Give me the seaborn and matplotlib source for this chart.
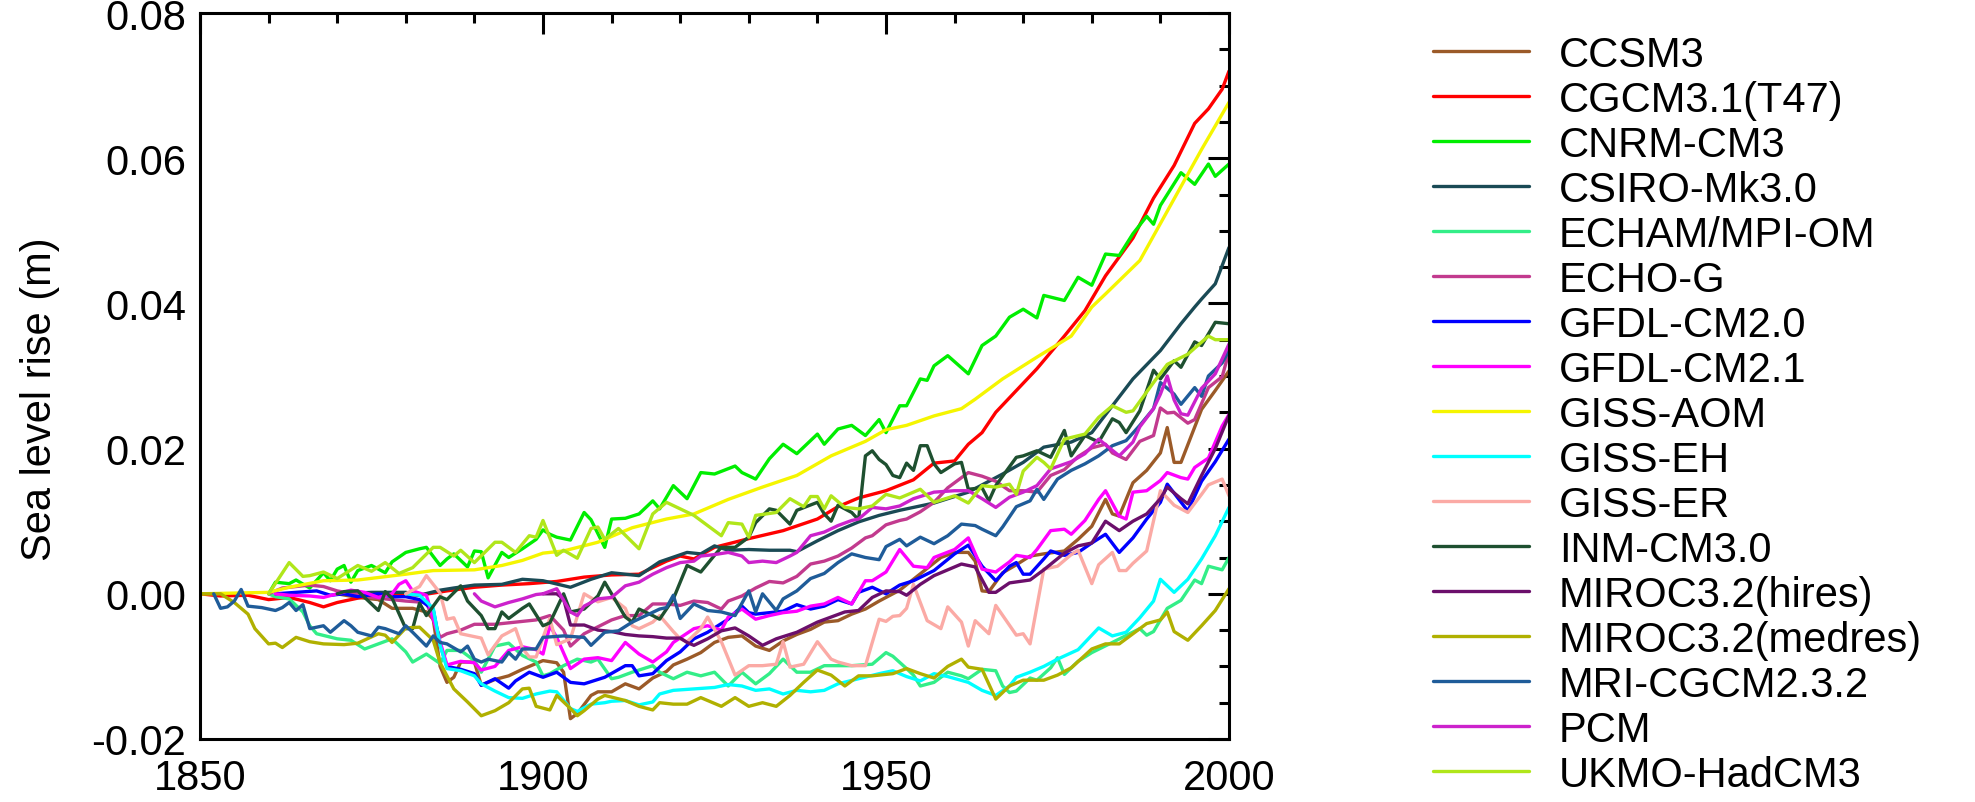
import matplotlib
matplotlib.use("Agg")
import matplotlib.pyplot as plt
from matplotlib.ticker import MultipleLocator, FormatStrFormatter
import seaborn as sns
import pandas as pd

# Model names in legend order, with their line colours
MODELS = [
    "CCSM3", "CGCM3.1(T47)", "CNRM-CM3", "CSIRO-Mk3.0", "ECHAM/MPI-OM",
    "ECHO-G", "GFDL-CM2.0", "GFDL-CM2.1", "GISS-AOM", "GISS-EH", "GISS-ER",
    "INM-CM3.0", "MIROC3.2(hires)", "MIROC3.2(medres)", "MRI-CGCM2.3.2",
    "PCM", "UKMO-HadCM3",
]
COLORS = [
    "#9b5a28", "#ff0000", "#00ee00", "#1a4a55", "#33ee88",
    "#c23a8e", "#0000ff", "#ff00ff", "#f5f500", "#00ffff", "#fbaaa5",
    "#1e5030", "#6b0f6b", "#b0b000", "#1f5c99",
    "#cc22cc", "#b0e61a",
]

# Sea level rise (m) per model: years and values
ccsm3_yr = [1870, 1873, 1876, 1878, 1881, 1883, 1884, 1885, 1886, 1887, 1888, 1890, 1891, 1893, 1895, 1897, 1900, 1902, 1903, 1904, 1905, 1907, 1908, 1910, 1912, 1914, 1916, 1918, 1919, 1921, 1923, 1925, 1927, 1929, 1931, 1933, 1935, 1937, 1939, 1941, 1943, 1945, 1947, 1949, 1950, 1952, 1954, 1956, 1958, 1960, 1962, 1963, 1964, 1965, 1967, 1969, 1971, 1973, 1976, 1978, 1980, 1982, 1983, 1984, 1986, 1988, 1990, 1991, 1992, 1993, 1996, 1998, 2000]
ccsm3 = [0.0, -0.0005, -0.0008, -0.0020, -0.0020, -0.0025, -0.0035, -0.0100, -0.0122, -0.0115, -0.0094, -0.0094, -0.0126, -0.0118, -0.0113, -0.0104, -0.0092, -0.0095, -0.0108, -0.0172, -0.0165, -0.0140, -0.0135, -0.0135, -0.0124, -0.0131, -0.0116, -0.0107, -0.0098, -0.0090, -0.0081, -0.0067, -0.0060, -0.0058, -0.0072, -0.0078, -0.0065, -0.0056, -0.0049, -0.0039, -0.0037, -0.0028, -0.0021, -0.0010, -0.0005, 0.0005, 0.0020, 0.0035, 0.0050, 0.0057, 0.0057, 0.0045, 0.0004, 0.0003, 0.0029, 0.0040, 0.0052, 0.0055, 0.0059, 0.0075, 0.0093, 0.0130, 0.0110, 0.0107, 0.0153, 0.0170, 0.0194, 0.0229, 0.0181, 0.0181, 0.0254, 0.0280, 0.0307]

cgcm31_yr = [1850, 1853, 1857, 1860, 1863, 1866, 1868, 1870, 1874, 1878, 1882, 1886, 1890, 1894, 1898, 1902, 1906, 1910, 1914, 1918, 1920, 1922, 1925, 1930, 1935, 1940, 1943, 1946, 1950, 1954, 1957, 1960, 1962, 1964, 1966, 1969, 1972, 1976, 1979, 1982, 1986, 1989, 1992, 1995, 1997, 1999, 2000]
cgcm31 = [0.0, -0.0003, -0.0002, -0.0008, -0.0005, -0.0012, -0.0018, -0.0012, -0.0004, 0.0, -0.0002, 0.0004, 0.0009, 0.0012, 0.0014, 0.0017, 0.0023, 0.0026, 0.0027, 0.0045, 0.0052, 0.0048, 0.0064, 0.0076, 0.0087, 0.0103, 0.0120, 0.0132, 0.0142, 0.0157, 0.0180, 0.0183, 0.0206, 0.0222, 0.0250, 0.0280, 0.0310, 0.0355, 0.0390, 0.0438, 0.0490, 0.0545, 0.0590, 0.0648, 0.0668, 0.0695, 0.0720]

cnrm_yr = [1860, 1861, 1863, 1864, 1866, 1868, 1869, 1870, 1871, 1872, 1873, 1875, 1877, 1878, 1880, 1882, 1883, 1885, 1886, 1887, 1889, 1890, 1891, 1892, 1894, 1895, 1897, 1899, 1900, 1901, 1902, 1904, 1906, 1907, 1909, 1910, 1912, 1914, 1916, 1917, 1919, 1921, 1923, 1925, 1928, 1929, 1931, 1933, 1935, 1937, 1940, 1941, 1943, 1945, 1947, 1949, 1950, 1952, 1953, 1955, 1956, 1957, 1959, 1962, 1964, 1966, 1968, 1970, 1972, 1973, 1976, 1978, 1980, 1982, 1984, 1986, 1988, 1989, 1990, 1993, 1995, 1997, 1998, 2000]
cnrm = [0.0, 0.0016, 0.0014, 0.0019, 0.0008, 0.0029, 0.0018, 0.0034, 0.0039, 0.0016, 0.0032, 0.0039, 0.0029, 0.0044, 0.0057, 0.0062, 0.0064, 0.0039, 0.0048, 0.0055, 0.0037, 0.0059, 0.0058, 0.0022, 0.0057, 0.0050, 0.0062, 0.0075, 0.0088, 0.0082, 0.0078, 0.0074, 0.0112, 0.0102, 0.0064, 0.0103, 0.0104, 0.0110, 0.0128, 0.0117, 0.0149, 0.0131, 0.0167, 0.0165, 0.0176, 0.0167, 0.0158, 0.0186, 0.0206, 0.0193, 0.0220, 0.0206, 0.0227, 0.0232, 0.0218, 0.0240, 0.0222, 0.0259, 0.0259, 0.0296, 0.0294, 0.0314, 0.0328, 0.0303, 0.0342, 0.0355, 0.0381, 0.0392, 0.0380, 0.0411, 0.0404, 0.0436, 0.0425, 0.0468, 0.0466, 0.0496, 0.0520, 0.0509, 0.0535, 0.0580, 0.0564, 0.0592, 0.0575, 0.0592]

csiro_yr = [1870, 1875, 1880, 1882, 1885, 1887, 1890, 1894, 1897, 1900, 1904, 1907, 1910, 1914, 1917, 1921, 1923, 1925, 1927, 1930, 1933, 1936, 1937, 1940, 1943, 1946, 1949, 1952, 1957, 1962, 1967, 1970, 1973, 1977, 1980, 1983, 1986, 1990, 1993, 1995, 1996, 1998, 2000]
csiro = [0.0, 0.0002, 0.0002, -0.0002, 0.0005, 0.0008, 0.0012, 0.0013, 0.0020, 0.0018, 0.0009, 0.0020, 0.0029, 0.0025, 0.0044, 0.0057, 0.0055, 0.0066, 0.0060, 0.0061, 0.0060, 0.0060, 0.0058, 0.0073, 0.0087, 0.0099, 0.0108, 0.0115, 0.0125, 0.0140, 0.0165, 0.0181, 0.0202, 0.0209, 0.0222, 0.0259, 0.0296, 0.0335, 0.0372, 0.0395, 0.0406, 0.0427, 0.0477]

echam_yr = [1860, 1861, 1863, 1865, 1866, 1867, 1870, 1872, 1874, 1876, 1878, 1880, 1881, 1883, 1885, 1886, 1888, 1890, 1891, 1893, 1895, 1897, 1899, 1900, 1901, 1903, 1905, 1907, 1908, 1910, 1911, 1913, 1916, 1917, 1919, 1921, 1923, 1925, 1927, 1929, 1931, 1933, 1935, 1937, 1939, 1941, 1945, 1948, 1950, 1951, 1953, 1954, 1955, 1957, 1959, 1961, 1962, 1964, 1966, 1967, 1968, 1969, 1971, 1972, 1974, 1975, 1976, 1978, 1980, 1983, 1987, 1988, 1989, 1991, 1993, 1995, 1996, 1997, 1999, 2000]
echam = [0.0, -0.0004, -0.0007, -0.0025, -0.0044, -0.0055, -0.0062, -0.0064, -0.0076, -0.0069, -0.0062, -0.0080, -0.0094, -0.0083, -0.0096, -0.0078, -0.0078, -0.0092, -0.0108, -0.0072, -0.0068, -0.0085, -0.0094, -0.0113, -0.0110, -0.0099, -0.0090, -0.0094, -0.0090, -0.0117, -0.0115, -0.0108, -0.0099, -0.0108, -0.0117, -0.0108, -0.0113, -0.0108, -0.0127, -0.0108, -0.0124, -0.0110, -0.0090, -0.0108, -0.0108, -0.0099, -0.0099, -0.0097, -0.0081, -0.0086, -0.0103, -0.0112, -0.0127, -0.0122, -0.0108, -0.0113, -0.0117, -0.0104, -0.0106, -0.0127, -0.0136, -0.0134, -0.0116, -0.0119, -0.0102, -0.0088, -0.0111, -0.0093, -0.0081, -0.0067, -0.0048, -0.0057, -0.0052, -0.0020, -0.0009, 0.0019, 0.0014, 0.0038, 0.0033, 0.0050]

echog_yr = [1860, 1862, 1864, 1866, 1868, 1870, 1875, 1880, 1883, 1885, 1886, 1888, 1890, 1893, 1895, 1897, 1899, 1901, 1903, 1904, 1906, 1910, 1912, 1914, 1916, 1918, 1920, 1922, 1924, 1926, 1927, 1929, 1931, 1933, 1935, 1937, 1939, 1941, 1943, 1945, 1947, 1948, 1950, 1952, 1953, 1955, 1957, 1959, 1962, 1964, 1966, 1968, 1970, 1972, 1974, 1976, 1978, 1980, 1982, 1983, 1985, 1987, 1989, 1990, 1991, 1992, 1994, 1995, 1997, 1999, 2000]
echog = [0.0, 0.0008, 0.0010, 0.0012, 0.0010, 0.0004, -0.0005, -0.0010, -0.0012, -0.0060, -0.0055, -0.0050, -0.0042, -0.0042, -0.0040, -0.0038, -0.0036, -0.0030, -0.0050, -0.0072, -0.0055, -0.0036, -0.0030, -0.0030, -0.0014, -0.0014, -0.0016, -0.0010, -0.0012, -0.0021, -0.0010, -0.0003, 0.0008, 0.0017, 0.0015, 0.0024, 0.0041, 0.0045, 0.0052, 0.0063, 0.0077, 0.0080, 0.0095, 0.0101, 0.0103, 0.0113, 0.0126, 0.0146, 0.0167, 0.0162, 0.0155, 0.0142, 0.0142, 0.0140, 0.0163, 0.0171, 0.0189, 0.0201, 0.0206, 0.0194, 0.0185, 0.0210, 0.0218, 0.0256, 0.0249, 0.0250, 0.0235, 0.0240, 0.0284, 0.0299, 0.0333]

gfdl20_yr = [1861, 1864, 1867, 1869, 1871, 1873, 1876, 1878, 1880, 1882, 1884, 1885, 1886, 1888, 1890, 1891, 1893, 1895, 1896, 1898, 1900, 1902, 1904, 1906, 1909, 1912, 1913, 1914, 1916, 1918, 1920, 1922, 1924, 1927, 1929, 1930, 1931, 1933, 1935, 1937, 1939, 1941, 1943, 1945, 1946, 1948, 1950, 1952, 1954, 1957, 1960, 1962, 1964, 1966, 1968, 1969, 1970, 1971, 1973, 1974, 1976, 1978, 1980, 1982, 1984, 1986, 1988, 1990, 1991, 1994, 1996, 1998, 2000]
gfdl20 = [0.0, 0.0002, 0.0004, -0.0002, 0.0, -0.0004, 0.0, -0.0004, -0.0004, -0.0008, -0.0022, -0.0070, -0.0100, -0.0104, -0.0110, -0.0126, -0.0117, -0.0130, -0.0120, -0.0108, -0.0115, -0.0108, -0.0122, -0.0124, -0.0115, -0.0099, -0.0099, -0.0113, -0.0110, -0.0092, -0.0080, -0.0062, -0.0053, -0.0035, -0.0017, -0.0026, -0.0028, -0.0026, -0.0024, -0.0015, -0.0021, -0.0017, -0.0008, -0.0014, 0.0002, 0.0009, 0.0, 0.0012, 0.0018, 0.0032, 0.0055, 0.0067, 0.0038, 0.0018, 0.0038, 0.0043, 0.0027, 0.0027, 0.0048, 0.0059, 0.0053, 0.0057, 0.0070, 0.0082, 0.0057, 0.0077, 0.0103, 0.0126, 0.0151, 0.0114, 0.0155, 0.0182, 0.0213]

gfdl21_yr = [1861, 1863, 1866, 1868, 1872, 1874, 1876, 1878, 1879, 1880, 1881, 1883, 1884, 1886, 1888, 1890, 1891, 1893, 1895, 1897, 1899, 1900, 1901, 1902, 1904, 1906, 1908, 1910, 1912, 1914, 1916, 1918, 1919, 1922, 1924, 1926, 1927, 1929, 1931, 1933, 1935, 1937, 1939, 1941, 1943, 1945, 1947, 1948, 1950, 1952, 1954, 1956, 1957, 1960, 1962, 1964, 1966, 1968, 1969, 1971, 1972, 1974, 1976, 1977, 1979, 1981, 1982, 1984, 1985, 1986, 1988, 1990, 1991, 1993, 1994, 1995, 1997, 1999, 2000]
gfdl21 = [0.0, -0.0002, -0.0003, -0.0005, 0.0005, 0.0002, -0.0005, 0.0, 0.0013, 0.0018, 0.0004, -0.0002, -0.0034, -0.0098, -0.0093, -0.0095, -0.0105, -0.0100, -0.0078, -0.0073, -0.0077, -0.0083, -0.0044, -0.0060, -0.0103, -0.0090, -0.0088, -0.0092, -0.0067, -0.0083, -0.0094, -0.0080, -0.0067, -0.0048, -0.0044, -0.0050, -0.0032, -0.0021, -0.0035, -0.0030, -0.0026, -0.0024, -0.0017, -0.0014, -0.0005, -0.0014, 0.0018, 0.0018, 0.0030, 0.0061, 0.0038, 0.0036, 0.0050, 0.0061, 0.0077, 0.0034, 0.0030, 0.0044, 0.0053, 0.0050, 0.0061, 0.0087, 0.0089, 0.0082, 0.0101, 0.0130, 0.0142, 0.0107, 0.0103, 0.0140, 0.0142, 0.0156, 0.0167, 0.0160, 0.0158, 0.0174, 0.0187, 0.0231, 0.0247]

giss_aom_yr = [1850, 1855, 1860, 1863, 1868, 1873, 1880, 1884, 1890, 1894, 1897, 1900, 1903, 1908, 1913, 1918, 1922, 1927, 1932, 1937, 1942, 1947, 1950, 1953, 1957, 1961, 1963, 1967, 1972, 1977, 1980, 1982, 1987, 1990, 1994, 1996, 2000]
giss_aom = [0.0, 0.0001, 0.0002, 0.0009, 0.0018, 0.0019, 0.0027, 0.0032, 0.0033, 0.0039, 0.0046, 0.0056, 0.0059, 0.0071, 0.0091, 0.0103, 0.0110, 0.0130, 0.0147, 0.0163, 0.0190, 0.0210, 0.0226, 0.0232, 0.0245, 0.0255, 0.0268, 0.0296, 0.0326, 0.0355, 0.0395, 0.0413, 0.0459, 0.0510, 0.0578, 0.0612, 0.0677]

giss_eh_yr = [1880, 1882, 1884, 1885, 1886, 1888, 1890, 1891, 1893, 1895, 1897, 1899, 1901, 1902, 1904, 1905, 1907, 1909, 1910, 1912, 1914, 1916, 1917, 1919, 1922, 1925, 1927, 1929, 1931, 1933, 1935, 1937, 1939, 1941, 1943, 1946, 1949, 1950, 1951, 1953, 1955, 1957, 1959, 1962, 1964, 1966, 1968, 1969, 1971, 1973, 1975, 1978, 1981, 1983, 1985, 1987, 1989, 1990, 1992, 1994, 1996, 1998, 2000]
giss_eh = [0.0, -0.0002, -0.0020, -0.0071, -0.0103, -0.0106, -0.0113, -0.0124, -0.0134, -0.0143, -0.0144, -0.0138, -0.0134, -0.0135, -0.0158, -0.0162, -0.0152, -0.0150, -0.0148, -0.0147, -0.0153, -0.0149, -0.0138, -0.0133, -0.0131, -0.0129, -0.0125, -0.0127, -0.0133, -0.0131, -0.0138, -0.0133, -0.0135, -0.0133, -0.0124, -0.0117, -0.0110, -0.0108, -0.0106, -0.0114, -0.0120, -0.0110, -0.0114, -0.0122, -0.0133, -0.0140, -0.0127, -0.0115, -0.0108, -0.0100, -0.0090, -0.0077, -0.0047, -0.0058, -0.0053, -0.0033, -0.0010, 0.0020, 0.0002, 0.0020, 0.0048, 0.0080, 0.0119]

giss_er_yr = [1880, 1882, 1883, 1885, 1886, 1887, 1888, 1891, 1892, 1894, 1896, 1897, 1898, 1899, 1901, 1902, 1904, 1906, 1908, 1910, 1912, 1913, 1914, 1916, 1917, 1919, 1920, 1921, 1923, 1924, 1926, 1928, 1930, 1932, 1934, 1935, 1936, 1938, 1940, 1942, 1943, 1945, 1947, 1949, 1950, 1951, 1952, 1953, 1954, 1956, 1958, 1959, 1961, 1962, 1963, 1965, 1966, 1969, 1970, 1971, 1973, 1975, 1977, 1978, 1980, 1981, 1983, 1984, 1985, 1986, 1988, 1990, 1992, 1994, 1996, 1997, 1999, 2000]
giss_er = [0.0, 0.0010, 0.0025, 0.0001, -0.0035, -0.0033, -0.0055, -0.0061, -0.0084, -0.0058, -0.0048, -0.0075, -0.0087, -0.0087, -0.0034, -0.0070, -0.0062, 0.0, -0.0011, -0.0005, -0.0020, -0.0044, -0.0048, -0.0039, -0.0030, -0.0052, -0.0062, -0.0066, -0.0048, -0.0032, -0.0066, -0.0112, -0.0099, -0.0099, -0.0097, -0.0066, -0.0101, -0.0097, -0.0066, -0.0090, -0.0094, -0.0099, -0.0099, -0.0035, -0.0038, -0.0031, -0.0030, -0.0020, 0.0013, -0.0037, -0.0048, -0.0018, -0.0039, -0.0072, -0.0037, -0.0055, -0.0016, -0.0057, -0.0055, -0.0069, 0.0034, 0.0038, 0.0054, 0.0060, 0.0014, 0.0040, 0.0057, 0.0032, 0.0032, 0.0042, 0.0059, 0.0142, 0.0122, 0.0112, 0.0137, 0.0150, 0.0158, 0.0135]

inm_yr = [1870, 1871, 1873, 1876, 1877, 1878, 1880, 1881, 1882, 1883, 1885, 1886, 1888, 1889, 1891, 1892, 1893, 1894, 1895, 1897, 1898, 1900, 1901, 1903, 1904, 1906, 1908, 1909, 1911, 1912, 1913, 1914, 1916, 1917, 1919, 1921, 1923, 1925, 1926, 1928, 1930, 1931, 1933, 1934, 1936, 1937, 1940, 1941, 1942, 1943, 1945, 1946, 1947, 1948, 1949, 1950, 1951, 1952, 1953, 1954, 1955, 1956, 1957, 1958, 1960, 1961, 1962, 1964, 1965, 1966, 1969, 1970, 1972, 1974, 1976, 1977, 1979, 1981, 1983, 1984, 1985, 1987, 1989, 1990, 1992, 1993, 1995, 1996, 1998, 2000]
inm = [0.0, 0.0003, 0.0004, -0.0023, 0.0003, -0.0006, -0.0048, -0.0048, -0.0013, -0.0030, -0.0004, -0.0008, 0.0011, -0.0010, -0.0030, -0.0048, -0.0048, -0.0025, -0.0034, -0.0020, -0.0014, -0.0044, -0.0040, 0.0, -0.0025, -0.0021, -0.0003, 0.0016, -0.0016, -0.0032, -0.0039, -0.0021, -0.0030, -0.0035, -0.0007, 0.0039, 0.0030, 0.0053, 0.0064, 0.0064, 0.0078, 0.0098, 0.0117, 0.0115, 0.0096, 0.0115, 0.0126, 0.0110, 0.0100, 0.0122, 0.0112, 0.0102, 0.0190, 0.0197, 0.0185, 0.0178, 0.0163, 0.0160, 0.0180, 0.0170, 0.0204, 0.0204, 0.0179, 0.0167, 0.0179, 0.0181, 0.0144, 0.0146, 0.0128, 0.0149, 0.0188, 0.0190, 0.0197, 0.0188, 0.0225, 0.0190, 0.0218, 0.0209, 0.0241, 0.0236, 0.0222, 0.0252, 0.0308, 0.0296, 0.0321, 0.0312, 0.0347, 0.0342, 0.0374, 0.0372]

miroc_hi_yr = [1900, 1902, 1903, 1904, 1906, 1908, 1910, 1912, 1914, 1916, 1918, 1920, 1921, 1922, 1924, 1926, 1928, 1930, 1932, 1934, 1937, 1940, 1942, 1944, 1946, 1948, 1950, 1952, 1953, 1955, 1957, 1961, 1963, 1965, 1966, 1968, 1971, 1973, 1976, 1978, 1980, 1982, 1984, 1986, 1988, 1990, 1991, 1993, 1994, 1996, 1998, 2000]
miroc_hi = [0.0, 0.0, -0.0007, -0.0043, -0.0043, -0.0050, -0.0052, -0.0056, -0.0058, -0.0059, -0.0061, -0.0061, -0.0067, -0.0071, -0.0062, -0.0051, -0.0047, -0.0058, -0.0071, -0.0062, -0.0053, -0.0039, -0.0032, -0.0025, -0.0023, -0.0005, 0.0004, 0.0003, -0.0002, 0.0013, 0.0025, 0.0041, 0.0037, 0.0002, 0.0002, 0.0015, 0.0019, 0.0033, 0.0056, 0.0066, 0.0070, 0.0100, 0.0087, 0.0100, 0.0110, 0.0131, 0.0147, 0.0131, 0.0124, 0.0163, 0.0200, 0.0246]

miroc_med_yr = [1850, 1853, 1855, 1857, 1858, 1860, 1861, 1862, 1864, 1866, 1868, 1871, 1873, 1876, 1877, 1878, 1880, 1882, 1884, 1885, 1887, 1889, 1891, 1893, 1895, 1897, 1898, 1899, 1901, 1902, 1904, 1905, 1906, 1908, 1909, 1912, 1914, 1916, 1917, 1919, 1921, 1923, 1926, 1928, 1930, 1932, 1934, 1936, 1938, 1940, 1942, 1944, 1946, 1948, 1951, 1953, 1955, 1957, 1959, 1961, 1962, 1964, 1966, 1968, 1970, 1973, 1975, 1977, 1980, 1982, 1984, 1987, 1988, 1990, 1991, 1992, 1994, 1996, 1998, 2000]
miroc_med = [0.0, 0.0, -0.0012, -0.0028, -0.0048, -0.0069, -0.0068, -0.0074, -0.0060, -0.0066, -0.0069, -0.0070, -0.0068, -0.0055, -0.0057, -0.0067, -0.0047, -0.0046, -0.0064, -0.0095, -0.0131, -0.0149, -0.0168, -0.0161, -0.0150, -0.0131, -0.0130, -0.0155, -0.0160, -0.0140, -0.0158, -0.0168, -0.0161, -0.0145, -0.0140, -0.0147, -0.0155, -0.0160, -0.0150, -0.0152, -0.0152, -0.0143, -0.0155, -0.0143, -0.0155, -0.0150, -0.0155, -0.0140, -0.0122, -0.0105, -0.0112, -0.0127, -0.0113, -0.0113, -0.0110, -0.0103, -0.0110, -0.0116, -0.0100, -0.0090, -0.0101, -0.0104, -0.0145, -0.0127, -0.0119, -0.0119, -0.0112, -0.0102, -0.0076, -0.0069, -0.0069, -0.0048, -0.0041, -0.0036, -0.0025, -0.0052, -0.0064, -0.0044, -0.0023, 0.0007]

mri_yr = [1852, 1853, 1854, 1855, 1856, 1857, 1859, 1861, 1862, 1863, 1864, 1865, 1866, 1868, 1869, 1871, 1872, 1873, 1875, 1876, 1877, 1879, 1880, 1881, 1883, 1884, 1885, 1886, 1888, 1889, 1890, 1891, 1892, 1894, 1895, 1896, 1897, 1899, 1900, 1903, 1906, 1907, 1909, 1911, 1913, 1915, 1917, 1918, 1919, 1920, 1922, 1924, 1926, 1928, 1930, 1931, 1932, 1934, 1935, 1937, 1939, 1941, 1943, 1945, 1947, 1949, 1950, 1952, 1953, 1955, 1957, 1959, 1961, 1963, 1964, 1966, 1967, 1969, 1971, 1972, 1973, 1975, 1977, 1979, 1981, 1983, 1985, 1987, 1989, 1990, 1992, 1993, 1995, 1996, 1997, 1999, 2000]
mri = [0.0, -0.0020, -0.0018, -0.0010, 0.0006, -0.0017, -0.0019, -0.0023, -0.0019, -0.0012, -0.0023, -0.0015, -0.0048, -0.0044, -0.0053, -0.0037, -0.0044, -0.0053, -0.0058, -0.0046, -0.0048, -0.0055, -0.0044, -0.0053, -0.0072, -0.0058, -0.0067, -0.0069, -0.0080, -0.0072, -0.0090, -0.0094, -0.0090, -0.0094, -0.0081, -0.0090, -0.0076, -0.0076, -0.0060, -0.0058, -0.0060, -0.0071, -0.0053, -0.0051, -0.0039, -0.0030, -0.0021, -0.0019, -0.0002, -0.0034, -0.0014, -0.0023, -0.0025, -0.0030, 0.0004, -0.0025, 0.0, -0.0023, -0.0007, 0.0004, 0.0021, 0.0028, 0.0043, 0.0055, 0.0050, 0.0047, 0.0065, 0.0075, 0.0066, 0.0078, 0.0069, 0.0080, 0.0096, 0.0094, 0.0089, 0.0080, 0.0092, 0.0120, 0.0128, 0.0144, 0.0130, 0.0158, 0.0170, 0.0179, 0.0190, 0.0204, 0.0211, 0.0232, 0.0255, 0.0291, 0.0275, 0.0261, 0.0284, 0.0272, 0.0300, 0.0318, 0.0335]

pcm_yr = [1890, 1891, 1893, 1895, 1897, 1899, 1900, 1902, 1904, 1905, 1906, 1908, 1910, 1912, 1914, 1916, 1918, 1920, 1922, 1923, 1925, 1927, 1929, 1930, 1932, 1934, 1936, 1937, 1939, 1941, 1943, 1945, 1946, 1948, 1950, 1952, 1954, 1957, 1960, 1962, 1964, 1966, 1968, 1970, 1972, 1974, 1977, 1979, 1981, 1984, 1986, 1987, 1989, 1990, 1991, 1992, 1993, 1994, 1996, 1998, 2000]
pcm = [0.0, -0.0010, -0.0018, -0.0012, -0.0007, -0.0001, 0.0, 0.0007, -0.0025, -0.0030, -0.0017, -0.0007, -0.0005, 0.0011, 0.0016, 0.0027, 0.0036, 0.0043, 0.0045, 0.0052, 0.0054, 0.0057, 0.0052, 0.0043, 0.0045, 0.0043, 0.0052, 0.0057, 0.0080, 0.0085, 0.0094, 0.0101, 0.0103, 0.0119, 0.0117, 0.0121, 0.0131, 0.0140, 0.0142, 0.0142, 0.0131, 0.0119, 0.0133, 0.0140, 0.0149, 0.0172, 0.0182, 0.0193, 0.0213, 0.0190, 0.0209, 0.0230, 0.0255, 0.0275, 0.0300, 0.0267, 0.0248, 0.0246, 0.0283, 0.0303, 0.0344]

ukmo_yr = [1860, 1863, 1865, 1866, 1868, 1870, 1873, 1875, 1877, 1879, 1881, 1884, 1885, 1887, 1888, 1890, 1893, 1894, 1896, 1898, 1899, 1900, 1902, 1903, 1905, 1907, 1908, 1909, 1911, 1914, 1916, 1918, 1922, 1924, 1926, 1927, 1929, 1930, 1931, 1934, 1936, 1938, 1939, 1940, 1941, 1942, 1944, 1946, 1948, 1950, 1952, 1955, 1957, 1960, 1962, 1964, 1966, 1968, 1969, 1970, 1972, 1973, 1974, 1976, 1979, 1981, 1983, 1985, 1986, 1989, 1991, 1994, 1997, 1998, 2000]
ukmo = [0.0, 0.0043, 0.0024, 0.0025, 0.0030, 0.0021, 0.0039, 0.0031, 0.0043, 0.0028, 0.0036, 0.0064, 0.0064, 0.0052, 0.0060, 0.0043, 0.0071, 0.0071, 0.0057, 0.0080, 0.0078, 0.0101, 0.0053, 0.0060, 0.0049, 0.0090, 0.0092, 0.0075, 0.0090, 0.0062, 0.0110, 0.0126, 0.0108, 0.0094, 0.0080, 0.0098, 0.0096, 0.0078, 0.0108, 0.0112, 0.0131, 0.0120, 0.0134, 0.0134, 0.0117, 0.0135, 0.0119, 0.0117, 0.0121, 0.0137, 0.0132, 0.0144, 0.0126, 0.0135, 0.0125, 0.0149, 0.0147, 0.0151, 0.0137, 0.0169, 0.0188, 0.0181, 0.0172, 0.0213, 0.0220, 0.0243, 0.0259, 0.0250, 0.0252, 0.0291, 0.0316, 0.0330, 0.0355, 0.0350, 0.0350]

SERIES_YEARS = [ccsm3_yr, cgcm31_yr, cnrm_yr, csiro_yr, echam_yr, echog_yr,
                gfdl20_yr, gfdl21_yr, giss_aom_yr, giss_eh_yr, giss_er_yr,
                inm_yr, miroc_hi_yr, miroc_med_yr, mri_yr, pcm_yr, ukmo_yr]
SERIES = [ccsm3, cgcm31, cnrm, csiro, echam, echog, gfdl20, gfdl21, giss_aom,
          giss_eh, giss_er, inm, miroc_hi, miroc_med, mri, pcm, ukmo]

Y_TICKS = [-0.02, 0.00, 0.02, 0.04, 0.06, 0.08]
X_TICKS = [1850, 1900, 1950, 2000]

frames = []
for name, yrs, vals in zip(MODELS, SERIES_YEARS, SERIES):
    frames.append(pd.DataFrame({"year": yrs, "rise": vals, "model": name}))
df = pd.concat(frames, ignore_index=True)

sns.set_theme(style="white")
plt.rcParams["font.family"] = ["Liberation Sans", "DejaVu Sans"]
plt.rcParams["axes.unicode_minus"] = False
for key in ("text.color", "axes.labelcolor", "xtick.color", "ytick.color",
            "axes.edgecolor"):
    plt.rcParams[key] = "black"

fig = plt.figure(figsize=(19.75, 8.03), dpi=100)
ax = fig.add_axes([200 / 1975, 1 - 740 / 803, 1029 / 1975, 726 / 803])

sns.lineplot(data=df, x="year", y="rise", hue="model", hue_order=MODELS,
             palette=dict(zip(MODELS, COLORS)), linewidth=2.4, errorbar=None,
             sort=True, ax=ax)

ax.set_xlim(1850, 2000)
ax.set_ylim(-0.02, 0.08)
ax.set_xticks(X_TICKS)
ax.set_yticks(Y_TICKS)
ax.xaxis.set_minor_locator(MultipleLocator(10))
ax.yaxis.set_minor_locator(MultipleLocator(0.005))
ax.yaxis.set_major_formatter(FormatStrFormatter("%.2f"))
ax.tick_params(which="both", direction="in", top=True, right=True,
               width=2.2, colors="black", labelsize=30)
ax.tick_params(which="major", length=15)
ax.tick_params(which="minor", length=7.5)
ax.tick_params(axis="x", pad=14)
ax.tick_params(axis="y", pad=10)
for s in ax.spines.values():
    s.set_linewidth(2.2)
    s.set_color("black")

ax.set_xlabel("")
ax.set_ylabel("Sea level rise (m)", fontsize=30, color="black")
ax.yaxis.set_label_coords(-0.136, 0.47)

handles, labels = ax.get_legend_handles_labels()
ax.legend(handles, labels, loc="upper left",
          bbox_to_anchor=(1433 / 1975, 1 - 36 / 803),
          bbox_transform=fig.transFigure, frameon=False, fontsize=30,
          handlelength=2.3, handletextpad=0.72, labelspacing=0.12,
          borderpad=0, borderaxespad=0, labelcolor="black")

fig.savefig("out.png", dpi=100, facecolor="white")
